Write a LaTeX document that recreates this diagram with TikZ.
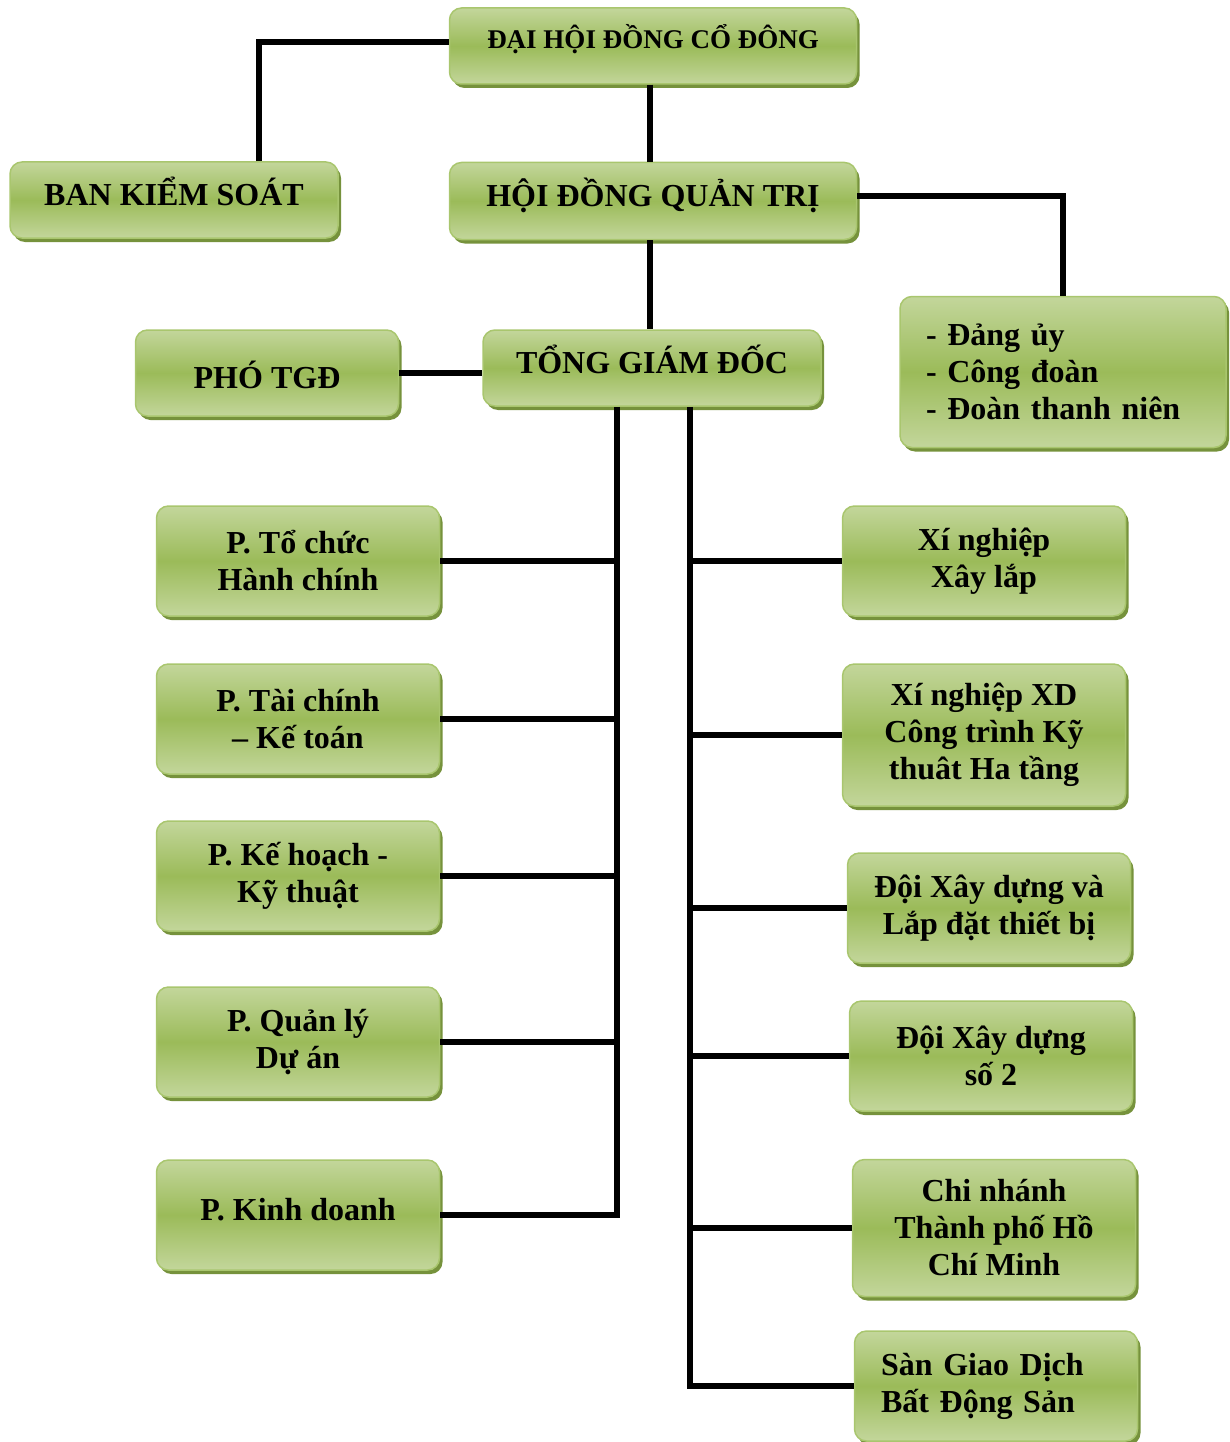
\documentclass[tikz,border=0pt]{standalone}
\usepackage{fontspec}
\setmainfont{Liberation Serif}
\usetikzlibrary{positioning,shadows}
\definecolor{LeafLight}{HTML}{C3D69B}
\definecolor{LeafMid}{HTML}{9BBB59}
\definecolor{LeafEdge}{HTML}{A9C66E}
\definecolor{LeafShade}{HTML}{76923C}

\begin{document}
\begin{tikzpicture}[x=1pt, y=-1pt,
  box/.style={draw=LeafEdge, line width=1.5pt, rounded corners=12pt,
    top color=LeafLight, bottom color=LeafLight, middle color=LeafMid,
    drop shadow={shadow xshift=3pt, shadow yshift=-4pt, fill=LeafShade, opacity=1},
    align=center, inner sep=0pt, minimum width=283pt, minimum height=110pt,
    font=\bfseries\fontsize{32}{37}\selectfont},
  lbox/.style={box, align=left, inner xsep=26pt},
  raised/.style={text height=24pt, text depth=13pt},
  link/.style={line width=5.5pt, black}
]
\useasboundingbox (0,0) rectangle (1229,1442);

% top levels
\node[box, minimum width=407pt, minimum height=76pt, text height=20pt, text depth=14pt,
  font=\bfseries\fontsize{27}{31}\selectfont] (dhdcd) at (653,46) {ĐẠI HỘI ĐỒNG CỔ ĐÔNG};
\node[box, raised, minimum width=328pt, minimum height=76pt] (bks) at (174,200) {BAN KIỂM SOÁT};
\node[box, raised, minimum width=407pt, minimum height=77pt] (hdqt) at (653,201) {HỘI ĐỒNG QUẢN TRỊ};
\node[lbox, text width=274pt, minimum height=151pt] (dang) at (1063,372) {- Đảng ủy\\- Công đoàn\\- Đoàn thanh niên};
\node[box, text height=31pt, text depth=0pt, minimum width=263pt, minimum height=86pt] (pho) at (267,373) {PHÓ TGĐ};
\node[box, raised, minimum width=338pt, minimum height=76pt] (tgd) at (652,368) {TỔNG GIÁM ĐỐC};

% phong ban (left)
\node[box] (pto) at (298,561) {P. Tổ chức\\Hành chính};
\node[box] (ptc) at (298,719) {P. Tài chính\\– Kế toán};
\node[box] (pkh) at (298,876) {P. Kế hoạch -\\Kỹ thuật};
\node[box] (pql) at (298,1042) {P. Quản lý\\Dự án};
\node[box, raised] (pkd) at (298,1215) {P. Kinh doanh};

% don vi (right)
\node[box] (xnxl) at (984,561) {Xí nghiệp\\Xây lắp};
\node[box, minimum height=142pt] (xnxd) at (984,735) {Xí nghiệp XD\\Công trình Kỹ\\thuât Ha tầng};
\node[box] (dxd) at (989,908) {Đội Xây dựng và\\Lắp đặt thiết bị};
\node[box] (dso) at (991,1056) {Đội Xây dựng\\số 2};
\node[box, minimum height=137pt] (cn) at (994,1228) {Chi nhánh\\Thành phố Hồ\\Chí Minh};
\node[lbox, text width=230pt] (san) at (996,1386) {Sàn Giao Dịch\\Bất Động Sản};

% trunks
\coordinate (lt) at (617,406);
\coordinate (rt) at (690,406);

\draw[link] ([xshift=85pt]bks.north) |- ([yshift=4pt]dhdcd.west);
\draw[link] ([xshift=-3pt]dhdcd.south) -- ([xshift=-3pt]hdqt.north);
\draw[link] ([yshift=5pt]hdqt.east) -| (dang.north);
\draw[link] ([xshift=-3pt]hdqt.south) -- ([xshift=-2pt]tgd.north);
\draw[link] (pho.east) -- (pho.east -| tgd.west);
\draw[link] (tgd.south -| lt) |- (pkd.east);
\draw[link] (tgd.south -| rt) |- (san.west);
\foreach \n in {pto,ptc,pkh,pql}
  \draw[link] (\n.east) -- (\n.east -| lt);
\foreach \n in {xnxl,xnxd,dxd,dso,cn}
  \draw[link] (\n.west) -- (\n.west -| rt);
\end{tikzpicture}
\end{document}
